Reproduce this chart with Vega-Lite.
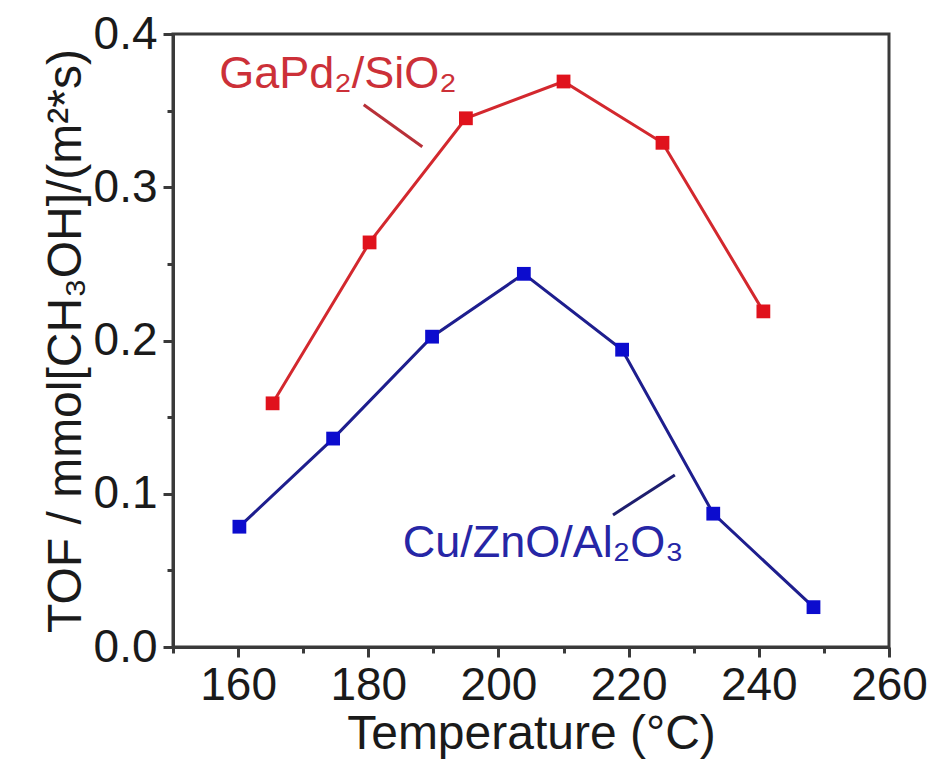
{
  "$schema": "https://vega.github.io/schema/vega-lite/v6.json",
  "width": 716,
  "height": 613,
  "autosize": "none",
  "padding": {"left": 173, "top": 34, "right": 43, "bottom": 116},
  "background": "white",
  "config": {
    "view": {"stroke": "#3a3a3a", "strokeWidth": 3},
    "font": "Liberation Sans"
  },
  "datasets": {
    "tof": [
      {"series": "GaPd2/SiO2", "T": 165.3, "TOF": 0.159},
      {"series": "GaPd2/SiO2", "T": 180.2, "TOF": 0.264},
      {"series": "GaPd2/SiO2", "T": 195.0, "TOF": 0.345},
      {"series": "GaPd2/SiO2", "T": 210.0, "TOF": 0.369},
      {"series": "GaPd2/SiO2", "T": 225.2, "TOF": 0.329},
      {"series": "GaPd2/SiO2", "T": 240.7, "TOF": 0.219},
      {"series": "Cu/ZnO/Al2O3", "T": 160.2, "TOF": 0.0785},
      {"series": "Cu/ZnO/Al2O3", "T": 174.6, "TOF": 0.136},
      {"series": "Cu/ZnO/Al2O3", "T": 189.8, "TOF": 0.2025},
      {"series": "Cu/ZnO/Al2O3", "T": 203.9, "TOF": 0.2435},
      {"series": "Cu/ZnO/Al2O3", "T": 219.0, "TOF": 0.194},
      {"series": "Cu/ZnO/Al2O3", "T": 233.0, "TOF": 0.087},
      {"series": "Cu/ZnO/Al2O3", "T": 248.4, "TOF": 0.026}
    ],
    "pointers": [
      {"series": "GaPd2/SiO2", "T": 179.3, "TOF": 0.3538, "T2": 188.3, "TOF2": 0.3264},
      {"series": "Cu/ZnO/Al2O3", "T": 217.6, "TOF": 0.0862, "T2": 227.1, "TOF2": 0.1123}
    ],
    "labels": [
      {"series": "GaPd2/SiO2", "T": 157.1, "TOF": 0.365, "label": "GaPd₂/SiO₂"},
      {"series": "Cu/ZnO/Al2O3", "T": 185.3, "TOF": 0.0587, "label": "Cu/ZnO/Al₂O₃"}
    ]
  },
  "layer": [
    {
      "data": {"name": "tof"},
      "mark": {"type": "line", "strokeWidth": 3},
      "encoding": {
        "x": {
          "field": "T", "type": "quantitative",
          "scale": {"domain": [150, 260], "nice": false, "zero": false},
          "axis": {
            "title": "Temperature (°C)",
            "values": [150, 160, 170, 180, 190, 200, 210, 220, 230, 240, 250, 260],
            "labelExpr": "datum.value % 20 == 0 ? datum.label : ''",
            "format": "d",
            "grid": false,
            "domainColor": "#3a3a3a", "domainWidth": 3,
            "tickColor": "#3a3a3a", "tickWidth": 3,
            "tickSize": {"condition": {"test": "datum.value % 20 == 0", "value": 10}, "value": 6},
            "labelFont": "Liberation Sans", "labelFontSize": 46, "labelColor": "#1a1a1a",
            "labelPadding": 6, "labelFlush": false,
            "titleFont": "Liberation Sans", "titleFontSize": 48, "titleFontWeight": "normal", "titleColor": "#1a1a1a",
            "titlePadding": 2
          }
        },
        "y": {
          "field": "TOF", "type": "quantitative",
          "scale": {"domain": [0, 0.4], "nice": false},
          "axis": {
            "title": "TOF / mmol[CH₃OH]/(m²*s)",
            "values": [0, 0.05, 0.1, 0.15, 0.2, 0.25, 0.3, 0.35, 0.4],
            "labelExpr": "round(datum.value*100) % 10 == 0 ? format(datum.value, '.1f') : ''",
            "grid": false,
            "domainColor": "#3a3a3a", "domainWidth": 3,
            "tickColor": "#3a3a3a", "tickWidth": 3,
            "tickSize": {"condition": {"test": "round(datum.value*100) % 10 == 0", "value": 10}, "value": 6},
            "labelFont": "Liberation Sans", "labelFontSize": 46, "labelColor": "#1a1a1a",
            "labelPadding": 6, "labelFlush": false,
            "titleFont": "Liberation Sans", "titleFontSize": 48, "titleFontWeight": "normal", "titleColor": "#1a1a1a",
            "titlePadding": 3
          }
        },
        "detail": {"field": "series"},
        "color": {"condition": {"test": "datum.series == 'GaPd2/SiO2'", "value": "#d3282e"}, "value": "#1e1e8e"}
      }
    },
    {
      "data": {"name": "tof"},
      "mark": {"type": "point", "shape": "square", "filled": true, "size": 190, "opacity": 1},
      "encoding": {
        "x": {"field": "T", "type": "quantitative"},
        "y": {"field": "TOF", "type": "quantitative"},
        "color": {"condition": {"test": "datum.series == 'GaPd2/SiO2'", "value": "#e0121c"}, "value": "#0c0cce"}
      }
    },
    {
      "data": {"name": "pointers"},
      "mark": {"type": "rule", "strokeWidth": 3},
      "encoding": {
        "x": {"field": "T", "type": "quantitative"},
        "y": {"field": "TOF", "type": "quantitative"},
        "x2": {"field": "T2"},
        "y2": {"field": "TOF2"},
        "color": {"condition": {"test": "datum.series == 'GaPd2/SiO2'", "value": "#b83038"}, "value": "#1e1e6e"}
      }
    },
    {
      "data": {"name": "labels"},
      "mark": {"type": "text", "align": "left", "baseline": "alphabetic", "font": "Liberation Sans", "fontSize": 45},
      "encoding": {
        "x": {"field": "T", "type": "quantitative"},
        "y": {"field": "TOF", "type": "quantitative"},
        "text": {"field": "label"},
        "color": {"condition": {"test": "datum.series == 'GaPd2/SiO2'", "value": "#cc3038"}, "value": "#2626a6"}
      }
    }
  ]
}
